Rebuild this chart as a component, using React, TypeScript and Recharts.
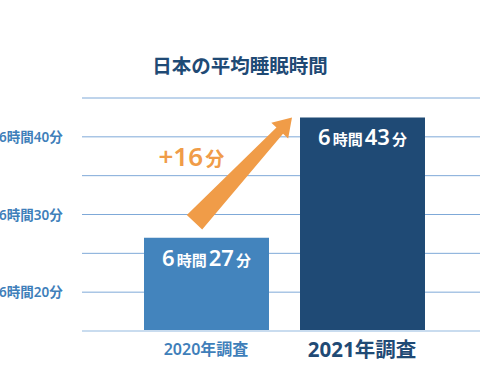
import { BarChart, Bar, XAxis, YAxis, CartesianGrid, Cell, LabelList, ReferenceLine } from 'recharts';

const title = '日本の平均睡眠時間';
const categories = ['2020年調査', '2021年調査'];
// average sleep, in minutes past 6:00 (bar heights as drawn)
const sleepMinutes = [27, 42.5];
const hourLabels = ['6', '6'];
const minuteLabels = ['27', '43'];
const yTicks = [15, 20, 25, 30, 35, 40, 45];
const yTickLabels: Record<number, string> = { 20: '6時間20分', 30: '6時間30分', 40: '6時間40分' };
const increaseLabel = '+16';
const arrowFrom = 29; // minutes, arrow tail
const arrowTo = 42.5; // minutes, arrow tip

const JP = "'Noto Sans', 'Noto Sans CJK JP', sans-serif";
const BAR_COLORS = ['#4384bd', '#1f4a75'];
const ORANGE = '#f09c48';

const data = categories.map((c, i) => ({
  name: c,
  value: sleepMinutes[i],
  h: hourLabels[i],
  m: minuteLabels[i],
}));

function YTick(props: any) {
  const { y, payload } = props;
  const label = yTickLabels[payload.value];
  if (!label) return null;
  return (
    <text x={-1} y={y} dy={5} textAnchor="start" fill="#3f7fba" fontSize={13.5} fontWeight={600} fontFamily={JP}>
      {label}
    </text>
  );
}

function XTick(props: any) {
  const { x, y, payload, index } = props;
  const big = index === 1;
  return (
    <text
      x={x}
      y={y + (big ? 26 : 24)}
      textAnchor="middle"
      fill={big ? '#1f4a75' : '#3f7fba'}
      fontSize={big ? 20.5 : 16}
      fontWeight={big ? 700 : 600}
      fontFamily={JP}
    >
      {payload.value}
    </text>
  );
}

function BarValue(props: any) {
  const { x, y, width, index } = props;
  const d = data[index];
  return (
    <text x={x + width / 2} y={y + 28} textAnchor="middle" fill="#fff" fontFamily={JP} fontWeight={600}>
      <tspan fontSize={22}>{d.h}</tspan>
      <tspan fontSize={15} dx={2}>時間</tspan>
      <tspan fontSize={22} dx={2}>{d.m}</tspan>
      <tspan fontSize={15} dx={2}>分</tspan>
    </text>
  );
}

function Arrow(props: any) {
  const { x1, y1, x2, y2 } = props;
  const tx = x1 - 11.5;
  const ty = y1;
  const hx = x2 - 70;
  const hy = y2;
  const dx = hx - tx;
  const dy = hy - ty;
  const len = Math.sqrt(dx * dx + dy * dy);
  const ux = dx / len;
  const uy = dy / len;
  const nx = -uy;
  const ny = ux;
  const headLen = 18;
  const bx = hx - ux * headLen;
  const by = hy - uy * headLen;
  const pts = [
    [tx + nx * 10.5, ty + ny * 10.5],
    [bx + nx * 4.5, by + ny * 4.5],
    [bx + nx * 11.5, by + ny * 11.5],
    [hx, hy],
    [bx - nx * 11.5, by - ny * 11.5],
    [bx - nx * 4.5, by - ny * 4.5],
    [tx - nx * 10.5, ty - ny * 10.5],
  ];
  return (
    <g>
      <polygon points={pts.map((p) => p.join(',')).join(' ')} fill={ORANGE} />
      <text x={tx - 36} y={ty - 56} fill={ORANGE} fontFamily={JP} fontWeight={600}>
        <tspan fontSize={26}>{increaseLabel}</tspan>
        <tspan fontSize={19} dx={2}>分</tspan>
      </text>
    </g>
  );
}

export default function App() {
  return (
    <div style={{ position: 'absolute', left: 0, top: 0, width: 480, height: 366, background: '#fff' }}>
      <svg width={480} height={366} style={{ position: 'absolute', left: 0, top: 0 }}>
        <text x={240} y={73} textAnchor="middle" fill="#1f4a75" fontSize={19.5} fontWeight={700} fontFamily={JP}>
          {title}
        </text>
      </svg>
      <BarChart
        width={480}
        height={366}
        data={data}
        margin={{ top: 98, right: 0, bottom: 0, left: 0 }}
        style={{ position: 'absolute', left: 0, top: 0 }}
      >
        <CartesianGrid vertical={false} stroke="#7fa9d8" strokeWidth={1} />
        <XAxis
          dataKey="name"
          height={35}
          padding={{ left: 46, right: 40 }}
          axisLine={{ stroke: '#c9dcef', strokeWidth: 2 }}
          tickLine={false}
          tickSize={0}
          tickMargin={0}
          tick={<XTick />}
          interval={0}
        />
        <YAxis
          width={82}
          domain={[15, 45]}
          ticks={yTicks}
          axisLine={false}
          tickLine={false}
          tick={<YTick />}
          interval={0}
        />
        <Bar dataKey="value" barSize={125} isAnimationActive={false}>
          {data.map((_, i) => (
            <Cell key={`c-${i}`} fill={BAR_COLORS[i]} />
          ))}
          <LabelList dataKey="value" content={<BarValue />} />
        </Bar>
        <ReferenceLine
          segment={[
            { x: categories[0], y: arrowFrom },
            { x: categories[1], y: arrowTo },
          ]}
          shape={<Arrow />}
          ifOverflow="visible"
        />
      </BarChart>
    </div>
  );
}
